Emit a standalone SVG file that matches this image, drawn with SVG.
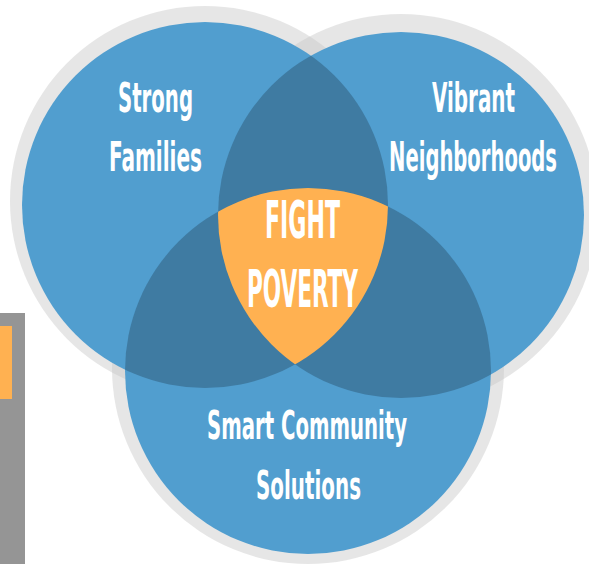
<svg xmlns="http://www.w3.org/2000/svg" width="589" height="564" viewBox="0 0 589 564">
<style>
.ring{fill:#c8c8c8;fill-opacity:0.45}
.blue{fill:#519ecf}
.dark{fill:#3f7ba2}
.core{fill:#ffb151}
.lbl{font-family:"Liberation Sans Narrow","DejaVu Sans Condensed","Liberation Sans",sans-serif;font-weight:bold;fill:#ffffff;text-anchor:middle}
</style>
<defs>
<clipPath id="cL"><circle cx="205" cy="205" r="183"/></clipPath>
<clipPath id="cR"><circle cx="401" cy="215" r="183"/></clipPath>
<clipPath id="cB"><circle cx="308" cy="371" r="183"/></clipPath>
</defs>
<rect width="589" height="564" fill="#ffffff"/>
<g id="sidebar">
<rect x="0" y="313" width="25" height="251" fill="#959595"/>
<rect x="0" y="326" width="12" height="73" fill="#ffb151"/>
</g>
<g id="rings">
<circle class="ring" cx="205" cy="201" r="195"/>
<circle class="ring" cx="401" cy="211" r="197"/>
<circle class="ring" cx="308" cy="368" r="196"/>
</g>
<g id="node-strong-families">
<circle class="blue" cx="205" cy="205" r="183"/>
</g>
<g id="node-vibrant-neighborhoods">
<circle class="blue" cx="401" cy="215" r="183"/>
</g>
<g id="node-smart-community">
<circle class="blue" cx="308" cy="371" r="183"/>
</g>
<g id="overlaps">
<circle class="dark" cx="401" cy="215" r="183" clip-path="url(#cL)"/>
<circle class="dark" cx="308" cy="371" r="183" clip-path="url(#cL)"/>
<circle class="dark" cx="308" cy="371" r="183" clip-path="url(#cR)"/>
</g>
<g id="node-fight-poverty">
<g clip-path="url(#cL)">
<circle class="core" cx="308" cy="371" r="183" clip-path="url(#cR)"/>
</g>
</g>
<g id="connectors"/>
<g id="labels">
<text class="lbl" transform="translate(155.5 112) scale(1 1.9)" font-size="21.6" textLength="75" lengthAdjust="spacingAndGlyphs">Strong</text>
<text class="lbl" transform="translate(155.5 171) scale(1 1.9)" font-size="21.6" textLength="93" lengthAdjust="spacingAndGlyphs">Families</text>
<text class="lbl" transform="translate(473.5 112) scale(1 1.9)" font-size="21.6" textLength="83" lengthAdjust="spacingAndGlyphs">Vibrant</text>
<text class="lbl" transform="translate(473 171) scale(1 1.9)" font-size="21.6" textLength="168" lengthAdjust="spacingAndGlyphs">Neighborhoods</text>
<text class="lbl" transform="translate(302.5 238) scale(1 1.9)" font-size="26.8" textLength="75" lengthAdjust="spacingAndGlyphs">FIGHT</text>
<text class="lbl" transform="translate(302.5 307) scale(1 1.9)" font-size="26.8" textLength="111" lengthAdjust="spacingAndGlyphs">POVERTY</text>
<text class="lbl" transform="translate(307 439) scale(1 1.9)" font-size="21" textLength="200" lengthAdjust="spacingAndGlyphs">Smart Community</text>
<text class="lbl" transform="translate(308.5 499) scale(1 1.9)" font-size="21" textLength="105" lengthAdjust="spacingAndGlyphs">Solutions</text>
</g>
</svg>
